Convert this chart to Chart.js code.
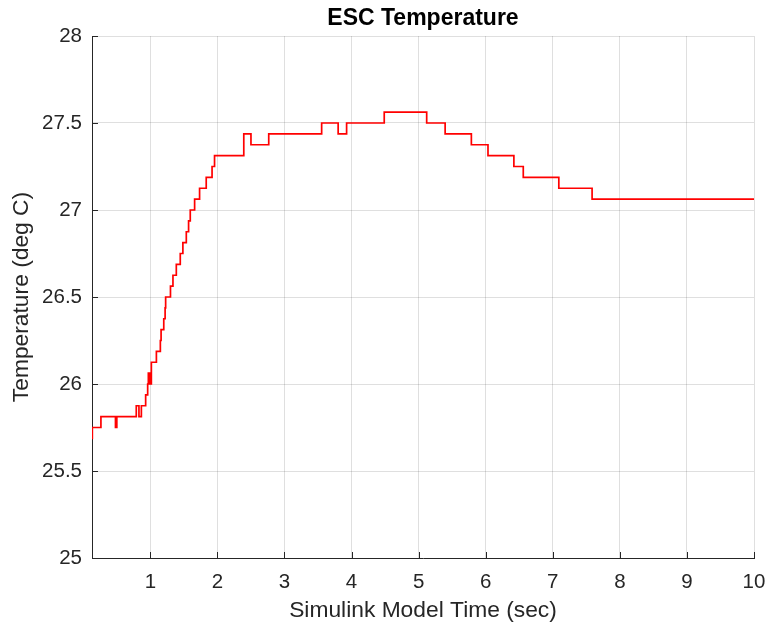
<!DOCTYPE html>
<html>
<head>
<meta charset="utf-8">
<title>ESC Temperature</title>
<script src="https://cdn.jsdelivr.net/npm/chart.js@4/dist/chart.umd.min.js"></script>
<style>
  html, body { margin: 0; padding: 0; background: #fff; }
</style>
</head>
<body>
<canvas id="escChart" width="770" height="628"></canvas>
<script>
'use strict';

// time (sec) at which the reading changes, and the held value from then on
const changeTimes = [
  0.13, 0.135, 0.263, 0.48, 0.50, 0.79, 0.83, 0.866, 0.93, 0.96,
  0.97, 0.98, 0.99, 1.00, 1.015, 1.09, 1.149, 1.16, 1.20, 1.22,
  1.228, 1.30, 1.337, 1.387, 1.446, 1.485, 1.536, 1.57, 1.595, 1.66,
  1.734, 1.833, 1.92, 1.957, 2.393, 2.50, 2.765, 3.554, 3.80, 3.926,
  4.487, 5.12, 5.395, 5.786, 6.034, 6.42, 6.56, 7.09, 7.586, 10
];
const escTemps = [
  25.6875, 25.75, 25.8125, 25.75, 25.8125, 25.875, 25.8125, 25.875, 25.9375, 26.0,
  26.0625, 26.0, 26.0625, 26.0, 26.125, 26.1875, 26.25, 26.3125, 26.375, 26.4375,
  26.5, 26.5625, 26.625, 26.6875, 26.75, 26.8125, 26.875, 26.9375, 27.0, 27.0625,
  27.125, 27.1875, 27.25, 27.3125, 27.4375, 27.375, 27.4375, 27.5, 27.4375, 27.5,
  27.5625, 27.5, 27.4375, 27.375, 27.3125, 27.25, 27.1875, 27.125, 27.0625, 27.0625
];
const xTicks = [1, 2, 3, 4, 5, 6, 7, 8, 9, 10];
const yTicks = [25, 25.5, 26, 26.5, 27, 27.5, 28];
const chartTitle = 'ESC Temperature';

const axisColor = '#262626';
const gridColor = 'rgba(38, 38, 38, 0.15)';
const fontFamily = '"Liberation Sans", Arial, Helvetica, sans-serif';

// matlab style: ticks pointing into the plot, title centred over the axes
const matlabAxes = {
  id: 'matlabAxes',
  afterDraw(chart) {
    const {ctx, chartArea, scales} = chart;
    ctx.save();
    ctx.strokeStyle = axisColor;
    ctx.lineWidth = 1;
    ctx.beginPath();
    xTicks.forEach(v => {
      const px = Math.round(scales.x.getPixelForValue(v)) + 0.5;
      ctx.moveTo(px, chartArea.bottom);
      ctx.lineTo(px, chartArea.bottom - 6);
    });
    yTicks.forEach(v => {
      const py = Math.round(scales.y.getPixelForValue(v)) + 0.5;
      ctx.moveTo(chartArea.left, py);
      ctx.lineTo(chartArea.left + 6, py);
    });
    ctx.stroke();

    ctx.fillStyle = '#000';
    ctx.font = 'bold 23px ' + fontFamily;
    ctx.textAlign = 'center';
    ctx.textBaseline = 'middle';
    ctx.fillText(chartTitle, (chartArea.left + chartArea.right) / 2, 18.5);
    ctx.restore();
  }
};

new Chart(document.getElementById('escChart'), {
  type: 'line',
  data: {
    datasets: [{
      label: chartTitle,
      data: changeTimes.map((t, i) => ({x: t, y: escTemps[i]})),
      stepped: true,
      borderColor: '#ff0000',
      borderWidth: 1.7,
      pointRadius: 0,
      fill: false
    }]
  },
  options: {
    responsive: false,
    animation: false,
    layout: {padding: {left: 0, right: 16, top: 36, bottom: 0}},
    plugins: {
      legend: {display: false},
      tooltip: {enabled: false},
      title: {display: false}
    },
    scales: {
      x: {
        type: 'linear',
        min: 0.13,
        max: 10,
        afterBuildTicks: s => { s.ticks = xTicks.map(v => ({value: v})); },
        afterFit: s => { s.height = 70; s.paddingLeft = 0; s.paddingRight = 0; },
        grid: {color: gridColor, drawTicks: false},
        border: {color: axisColor, width: 1},
        ticks: {
          color: axisColor,
          padding: 12,
          maxRotation: 0,
          autoSkip: false,
          font: {family: fontFamily, size: 20.5},
          callback: v => String(v)
        },
        title: {
          display: true,
          text: 'Simulink Model Time (sec)',
          color: axisColor,
          font: {family: fontFamily, size: 22.8},
          padding: {top: 0, bottom: 4}
        }
      },
      y: {
        min: 25,
        max: 28,
        afterBuildTicks: s => { s.ticks = yTicks.map(v => ({value: v})); },
        afterFit: s => { s.width = 92; },
        grid: {color: gridColor, drawTicks: false},
        border: {color: axisColor, width: 1},
        ticks: {
          color: axisColor,
          padding: 10,
          font: {family: fontFamily, size: 20.5},
          callback: v => String(v)
        },
        title: {
          display: true,
          text: 'Temperature (deg C)',
          color: axisColor,
          font: {family: fontFamily, size: 22.8},
          padding: {top: 8, bottom: 0}
        }
      }
    }
  },
  plugins: [matlabAxes]
});
</script>
</body>
</html>
